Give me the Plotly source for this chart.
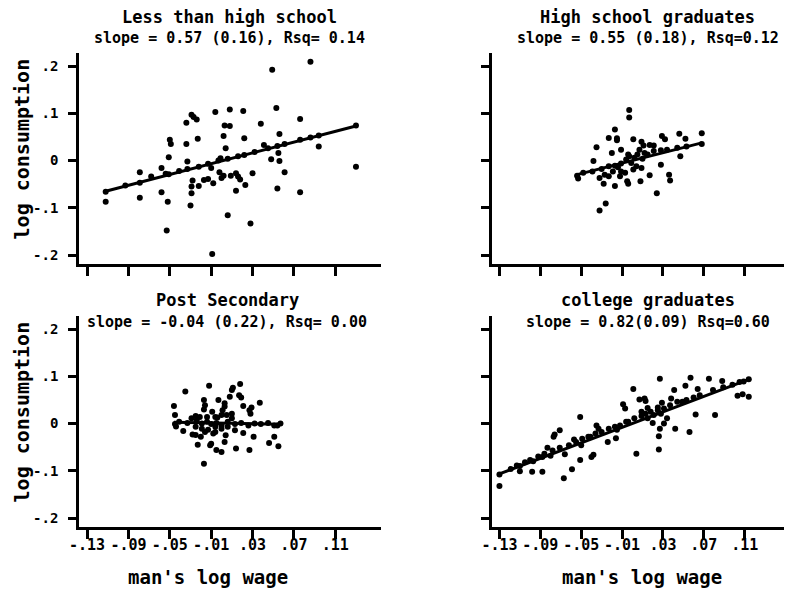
import numpy as np
import plotly.graph_objects as go

# wage / consumption residuals by education group
lths_wage = [-0.112, -0.112, -0.093, -0.079, -0.079, -0.079, -0.058, -0.058, -0.052, -0.053,
             -0.050, -0.049, -0.051, -0.051, -0.034, -0.029, -0.027, -0.024, -0.034, -0.023,
             -0.033, -0.028, -0.029, -0.029, -0.030, -0.022, -0.017, -0.013, -0.008, -0.010,
             -0.006, 0.003, 0.008, 0.008, 0.002, 0.004, -0.001, -0.002, 0.000, 0.002,
             0.009, 0.006, -0.009, 0.014, 0.016, 0.018, 0.014, 0.023, 0.021, 0.022,
             0.030, 0.028, 0.038, 0.041, 0.048, 0.049, 0.053, 0.056, 0.055, 0.056,
             0.061, 0.054, 0.076, 0.076, 0.086, 0.094, 0.130, 0.130,
             -0.068, -0.054, -0.041, -0.033, -0.022, -0.013, -0.003, 0.006, 0.016, 0.022,
             0.032, 0.045, 0.054, 0.061, 0.076, 0.086, 0.094]
lths_cons = [-0.066, -0.087, -0.053, -0.025, -0.047, -0.079, -0.016, -0.067, -0.087, -0.148,
             0.044, 0.035, 0.007, -0.029, 0.080, 0.097, 0.092, 0.087, 0.035, 0.046,
             -0.002, -0.042, -0.055, -0.069, -0.095, -0.054, -0.041, -0.039, -0.048, -0.016,
             0.103, 0.074, 0.073, 0.108, 0.052, 0.026, 0.005, -0.025, -0.037, -0.032,
             -0.032, -0.116, -0.198, -0.027, -0.034, -0.040, -0.064, -0.052, 0.105, 0.047,
             -0.027, -0.133, 0.078, 0.033, 0.003, 0.192, 0.111, 0.056, 0.016, -0.001,
             -0.025, -0.059, 0.088, -0.067, 0.209, 0.030, 0.074, -0.013,
             -0.034, -0.028, -0.022, -0.018, -0.013, -0.007, 0.000, 0.004, 0.009, 0.012,
             0.018, 0.026, 0.031, 0.035, 0.044, 0.049, 0.053]

hs_wage = [-0.054, -0.053, -0.048, -0.038, -0.035, -0.032, -0.032, -0.026, -0.028, -0.023,
           -0.017, -0.015, -0.015, -0.020, -0.023, -0.017, -0.011, -0.014, -0.017, -0.003,
           -0.003, 0.001, -0.005, -0.004, 0.008, 0.001, 0.009, 0.011, 0.017, 0.021,
           0.017, 0.024, 0.028, 0.029, 0.032, 0.036, 0.037, 0.046, 0.047, 0.052,
           0.068, 0.068,
           -0.039, -0.030, -0.023, -0.011, -0.006, -0.003, 0.002, 0.005, 0.010, 0.012,
           0.015, 0.021, 0.028, 0.034, 0.044, 0.053, -0.007, -0.001, 0.004, 0.009,
           -0.027, -0.019, -0.012, -0.004, 0.007, -0.011]
hs_cons = [-0.032, -0.038, -0.026, -0.001, 0.028, -0.037, -0.106, -0.091, -0.049, 0.048,
           0.066, 0.047, 0.043, 0.016, -0.033, -0.054, 0.023, -0.014, -0.011, 0.107,
           0.091, 0.045, -0.044, -0.049, -0.044, -0.019, 0.040, 0.032, 0.033, 0.032,
           -0.031, -0.069, -0.009, 0.052, 0.045, -0.030, -0.042, 0.057, 0.009, 0.046,
           0.058, 0.035,
           -0.023, -0.018, -0.012, -0.006, 0.002, 0.009, 0.006, 0.013, 0.004, 0.016,
           0.013, 0.020, 0.022, 0.023, 0.027, 0.030, -0.026, -0.005, -0.012, -0.016,
           -0.030, -0.023, -0.033, 0.013, 0.023, -0.023]

ps_wage = [-0.046, -0.045, -0.045, -0.044, -0.037, -0.035, -0.028, -0.025, -0.023, -0.020,
           -0.017, -0.017, -0.016, -0.017, -0.014, -0.012, -0.011, -0.009, -0.010, -0.006,
           -0.005, -0.003, -0.004, 0.000, 0.001, 0.003, 0.003, 0.005, 0.004, 0.003,
           0.008, 0.010, 0.011, 0.010, 0.013, 0.014, 0.017, 0.018, 0.019, 0.021,
           0.021, 0.027, 0.029, 0.028, 0.027, 0.031, 0.037, 0.046, 0.051, 0.055,
           0.054, 0.057,
           -0.041, -0.033, -0.029, -0.024, -0.019, -0.014, -0.010, -0.005, 0.000, 0.006,
           0.013, 0.019, 0.026, 0.032, 0.038, 0.045, 0.051, -0.025, -0.019, -0.013,
           -0.006, 0.000, 0.006, -0.016, -0.008, -0.021, -0.006, 0.000, 0.010, -0.025]
ps_cons = [0.037, 0.018, -0.001, -0.006, -0.016, 0.068, -0.023, -0.024, -0.045, -0.028,
           -0.085, 0.050, 0.039, 0.030, 0.014, 0.080, -0.046, 0.025, -0.043, -0.018,
           -0.056, 0.050, 0.013, -0.060, 0.028, 0.036, 0.043, 0.018, -0.025, -0.039,
           0.057, 0.071, 0.076, 0.021, -0.014, -0.053, 0.060, 0.084, 0.055, 0.037,
           -0.020, 0.028, 0.034, 0.021, -0.056, -0.028, 0.044, -0.041, -0.028, -0.048,
           -0.004, 0.000,
           0.004, 0.001, 0.011, 0.007, 0.000, 0.004, -0.001, 0.001, -0.004, 0.004,
           -0.001, 0.001, -0.004, 0.000, -0.001, 0.001, -0.004, -0.007, -0.011, -0.013,
           -0.007, -0.011, -0.007, -0.018, -0.021, 0.014, 0.014, 0.018, 0.011, 0.016]

cg_wage = [-0.130, -0.130, -0.110, -0.110, -0.098, -0.097, -0.088, -0.088, -0.083, -0.080,
           -0.077, -0.076, -0.071, -0.067, -0.066, -0.059, -0.057, -0.051, -0.051, -0.050,
           -0.040, -0.038, -0.041, -0.035, -0.033, -0.024, -0.016, -0.015, -0.009, -0.007,
           -0.006, 0.001, 0.004, 0.007, 0.012, 0.013, 0.015, 0.020, 0.026, 0.027,
           0.026, 0.027, 0.025, 0.029, 0.031, 0.034, 0.038, 0.041, 0.042, 0.049,
           0.052, 0.056, 0.057, 0.062, 0.064, 0.075, 0.081, 0.088, 0.103, 0.108,
           0.114, 0.114, 0.109,
           -0.119, -0.113, -0.105, -0.100, -0.092, -0.086, -0.078, -0.071, -0.062, -0.055,
           -0.049, -0.043, -0.036, -0.030, -0.023, -0.017, -0.012, -0.004, 0.002, 0.009,
           0.013, 0.018, 0.025, 0.031, 0.037, 0.044, 0.053, 0.060, 0.066, 0.079,
           0.089, 0.098, 0.105, 0.009, 0.021, 0.028, 0.015]
cg_cons = [-0.108, -0.132, -0.101, -0.090, -0.102, -0.080, -0.102, -0.071, -0.051, -0.068,
           -0.028, -0.023, -0.014, -0.116, -0.065, -0.097, -0.034, -0.077, 0.014, -0.046,
           -0.071, -0.066, -0.028, -0.004, -0.011, -0.039, -0.031, -0.013, 0.041, 0.032,
           0.004, 0.073, -0.064, 0.051, 0.053, 0.048, 0.033, 0.001, -0.055, 0.095,
           -0.027, -0.011, 0.034, 0.044, 0.000, 0.011, 0.053, 0.071, -0.011, 0.046,
           0.080, -0.018, 0.097, 0.019, 0.073, 0.095, 0.018, 0.090, 0.059, 0.062,
           0.057, 0.094, 0.089,
           -0.096, -0.089, -0.082, -0.077, -0.070, -0.064, -0.057, -0.051, -0.046, -0.039,
           -0.032, -0.028, -0.021, -0.018, -0.011, -0.007, -0.004, 0.004, 0.011, 0.016,
           0.021, 0.025, 0.028, 0.032, 0.039, 0.046, 0.050, 0.055, 0.060, 0.071,
           0.077, 0.082, 0.088, 0.025, 0.018, 0.021, 0.011]

panel_titles = ["Less than high school", "High school graduates",
                "Post Secondary", "college graduates"]
panel_stats = ["slope = 0.57 (0.16), Rsq= 0.14", "slope = 0.55 (0.18), Rsq=0.12",
               "slope = -0.04 (0.22), Rsq= 0.00", "slope = 0.82(0.09) Rsq=0.60"]
fit_slope = [0.57, 0.55, -0.04, 0.82]
fit_intercept = [-0.001, 0.0, 0.001, 0.0]

x_title = "man's log wage"
y_title = "log consumption"
x_ticks = [-0.13, -0.09, -0.05, -0.01, 0.03, 0.07, 0.11]
x_ticklabels = ["-.13", "-.09", "-.05", "-.01", ".03", ".07", ".11"]
y_ticks = [-0.2, -0.1, 0, 0.1, 0.2]
y_ticklabels = ["-.2", "-.1", "0", ".1", ".2"]

panels = [(lths_wage, lths_cons), (hs_wage, hs_cons), (ps_wage, ps_cons), (cg_wage, cg_cons)]

# the page body has an 8px margin, so the figure is made smaller and
# every position below is given in window pixels and shifted by OFF
OFF = 8
W, H = 792 - OFF, 593 - OFF
FONT = "DejaVu Sans Mono"


def px_x(p):
    return (p - OFF) / W


def px_y(p):
    return 1 - (p - OFF) / H


fig = go.Figure()

# window-pixel boxes of the four plot areas: (left, right, top, bottom)
boxes = [(70, 376, 53, 264), (488, 792, 53, 264),
         (70, 376, 316, 527), (488, 792, 316, 527)]
x_ranges = [[-0.1376, 0.1545], [-0.1374, 0.1563], [-0.1376, 0.1545], [-0.1374, 0.1563]]
title_y = [(17, 38), (17, 38), (300, 322), (300, 322)]
title_x = [222, 646, 220, 646]
xtitle_x = [200, 640]

for i, (xs, ys) in enumerate(panels):
    n = i + 1
    xa = "x" if n == 1 else "x%d" % n
    ya = "y" if n == 1 else "y%d" % n
    fig.add_trace(go.Scatter(x=xs, y=ys, mode="markers", xaxis=xa, yaxis=ya,
                             marker=dict(color="black", size=6), showlegend=False))
    xl = np.array([min(xs), max(xs)])
    fig.add_trace(go.Scatter(x=xl, y=fit_intercept[i] + fit_slope[i] * xl, mode="lines",
                             xaxis=xa, yaxis=ya, line=dict(color="black", width=3),
                             showlegend=False))

    l, r, t, b = boxes[i]
    bottom_row = i >= 2
    left_col = i % 2 == 0
    xkey = "xaxis" if n == 1 else "xaxis%d" % n
    ykey = "yaxis" if n == 1 else "yaxis%d" % n
    fig.layout[xkey] = dict(
        domain=[px_x(l), min(px_x(r), 1.0)], anchor=ya, range=x_ranges[i],
        tickvals=x_ticks, ticktext=x_ticklabels, showticklabels=bottom_row,
        ticks="outside", ticklen=9, tickwidth=2.5, tickcolor="black",
        ticklabelstandoff=-7,
        showline=True, linewidth=3, linecolor="black",
        showgrid=False, zeroline=False,
        tickfont=dict(family=FONT, size=15, color="black", weight="bold"))
    fig.layout[ykey] = dict(
        domain=[px_y(b), px_y(t)], anchor=xa, range=[-0.219, 0.2277],
        tickvals=y_ticks, ticktext=y_ticklabels, showticklabels=left_col,
        ticks="outside", ticklen=8, tickwidth=2.5, tickcolor="black",
        ticklabelstandoff=7,
        showline=True, linewidth=3, linecolor="black",
        showgrid=False, zeroline=False,
        tickfont=dict(family=FONT, size=14, color="black", weight="bold"))

    fig.add_annotation(x=px_x(title_x[i]), y=px_y(title_y[i][0]), xref="paper", yref="paper",
                       text=panel_titles[i], showarrow=False, xanchor="center", yanchor="middle",
                       font=dict(family=FONT, size=17, color="black", weight="bold"))
    fig.add_annotation(x=px_x(title_x[i]), y=px_y(title_y[i][1]), xref="paper", yref="paper",
                       text=panel_stats[i], showarrow=False, xanchor="center", yanchor="middle",
                       font=dict(family=FONT, size=15, color="black", weight="bold"))

    # axis titles only on the outer panels
    if bottom_row:
        fig.add_annotation(x=px_x(xtitle_x[i % 2]), y=px_y(577), xref="paper", yref="paper",
                           text=x_title, showarrow=False, xanchor="center", yanchor="middle",
                           font=dict(family=FONT, size=19, color="black", weight="bold"))
    if left_col:
        fig.add_annotation(x=px_x(12), y=px_y((t + b) / 2 - 10), xref="paper", yref="paper",
                           text=y_title, textangle=-90, showarrow=False,
                           xanchor="center", yanchor="middle",
                           font=dict(family=FONT, size=20, color="black", weight="bold"))

fig.update_layout(width=W, height=H, margin=dict(l=0, r=0, t=0, b=0),
                  paper_bgcolor="white", plot_bgcolor="white")

fig.write_html("out.html")
